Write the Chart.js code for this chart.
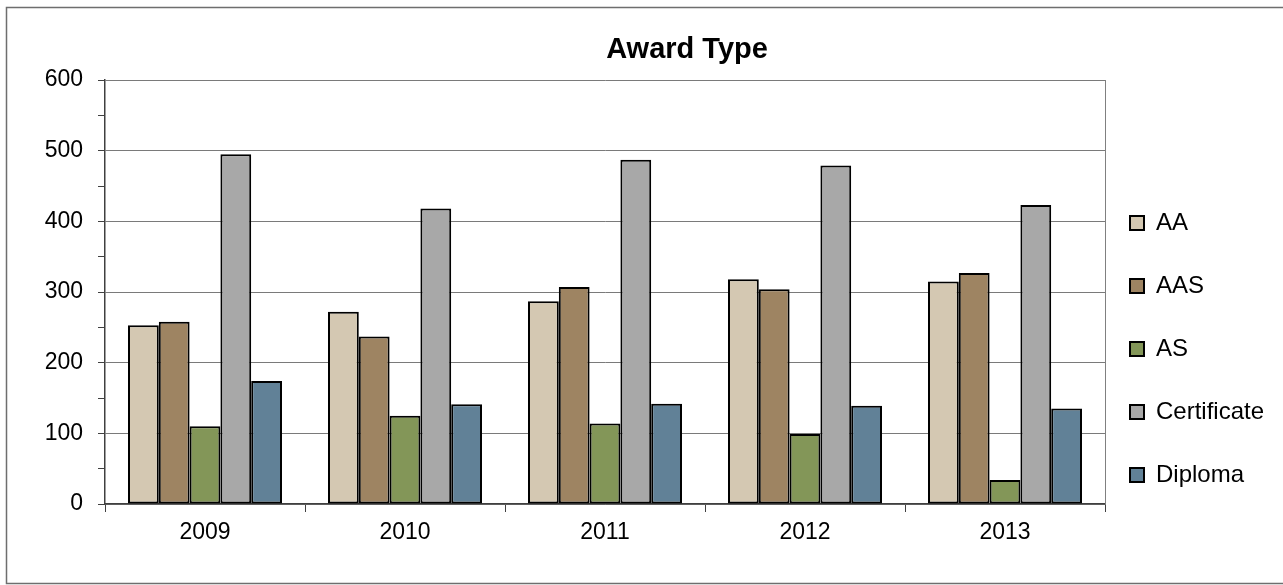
<!DOCTYPE html>
<html>
<head>
<meta charset="utf-8">
<script src="https://cdn.jsdelivr.net/npm/chart.js@4.4.1/dist/chart.umd.min.js"></script>
<style>
  body { margin: 0; background: #fff; }
  #wrap { position: relative; width: 1283px; height: 585px; }
</style>
</head>
<body>
<div id="wrap"><canvas id="chart"></canvas></div>
<script>
// chart data
const years = ['2009', '2010', '2011', '2012', '2013'];
const aa = [253, 272, 287, 318, 315];
const aas = [258, 237, 307, 304, 327];
const as = [110, 125, 114, 99, 34];
const certificate = [495, 418, 487, 479, 423];
const diploma = [174, 141, 142, 139, 135];
const yTicks = [0, 100, 200, 300, 400, 500, 600];

Chart.defaults.font.family = '"Liberation Sans", Arial, sans-serif';
Chart.defaults.color = '#000';

function series(label, data, color) {
  return {
    label: label,
    data: data,
    backgroundColor: color,
    borderColor: '#000',
    borderWidth: 2,
    borderSkipped: false,
    categoryPercentage: 0.77,
    barPercentage: 1.0
  };
}

// title, frame, plot-area right edge
const framePlugin = {
  id: 'frame',
  afterLayout: function(chart) {
    // move the legend closer to the plot and up a bit
    const lg = chart.legend;
    lg.left -= 14;
    lg.right -= 14;
    lg.top -= 52;
    lg.bottom -= 52;
  },
  afterDraw: function(chart) {
    const ctx = chart.ctx;
    const area = chart.chartArea;
    ctx.save();
    ctx.strokeStyle = '#808080';
    ctx.lineWidth = 1;
    ctx.beginPath();
    ctx.moveTo(area.right + 0.5, area.top);
    ctx.lineTo(area.right + 0.5, area.bottom);
    ctx.stroke();

    ctx.strokeStyle = '#6e6e6e';
    ctx.lineWidth = 1.5;
    ctx.beginPath();
    ctx.moveTo(1290, 7.5);
    ctx.lineTo(6.5, 7.5);
    ctx.lineTo(6.5, 583.5);
    ctx.lineTo(1290, 583.5);
    ctx.stroke();

    ctx.fillStyle = '#000';
    ctx.font = 'bold 29px "Liberation Sans", Arial, sans-serif';
    ctx.textAlign = 'center';
    ctx.textBaseline = 'alphabetic';
    ctx.fillText('Award Type', 687, 58);
    ctx.restore();
  }
};

new Chart(document.getElementById('chart'), {
  type: 'bar',
  data: {
    labels: years,
    datasets: [
      series('AA', aa, '#D4C8B2'),
      series('AAS', aas, '#9E8462'),
      series('AS', as, '#839658'),
      series('Certificate', certificate, '#A8A8A8'),
      series('Diploma', diploma, '#618197')
    ]
  },
  options: {
    responsive: true,
    maintainAspectRatio: false,
    animation: false,
    layout: {
      padding: { top: 80, left: 6, right: 0, bottom: 7 }
    },
    plugins: {
      title: { display: false },
      tooltip: { enabled: false },
      legend: {
        position: 'right',
        align: 'end',
        maxWidth: 178,
        labels: {
          boxWidth: 14,
          boxHeight: 14,
          padding: 39,
          color: '#000',
          font: { size: 24, lineHeight: 1 }
        }
      }
    },
    scales: {
      x: {
        afterFit: function(scale) { scale.height = 74; },
        grid: {
          drawOnChartArea: false,
          drawTicks: true,
          tickLength: 8,
          tickColor: '#404040'
        },
        border: { color: '#404040', width: 1.5 },
        ticks: {
          padding: 7,
          color: '#000',
          font: { size: 23 }
        }
      },
      y: {
        min: yTicks[0],
        max: yTicks[yTicks.length - 1],
        afterFit: function(scale) { scale.width = 99; },
        ticks: {
          stepSize: 50,
          padding: 15,
          color: '#000',
          font: { size: 23 },
          callback: function(value) {
            return yTicks.includes(value) ? value : '';
          }
        },
        grid: {
          tickLength: 7,
          tickColor: '#404040',
          color: function(c) {
            return yTicks.includes(c.tick.value) ? '#7a7a7a' : 'rgba(0,0,0,0)';
          },
          lineWidth: 1
        },
        border: { color: '#404040', width: 1.5 }
      }
    }
  },
  plugins: [framePlugin]
});
</script>
</body>
</html>
